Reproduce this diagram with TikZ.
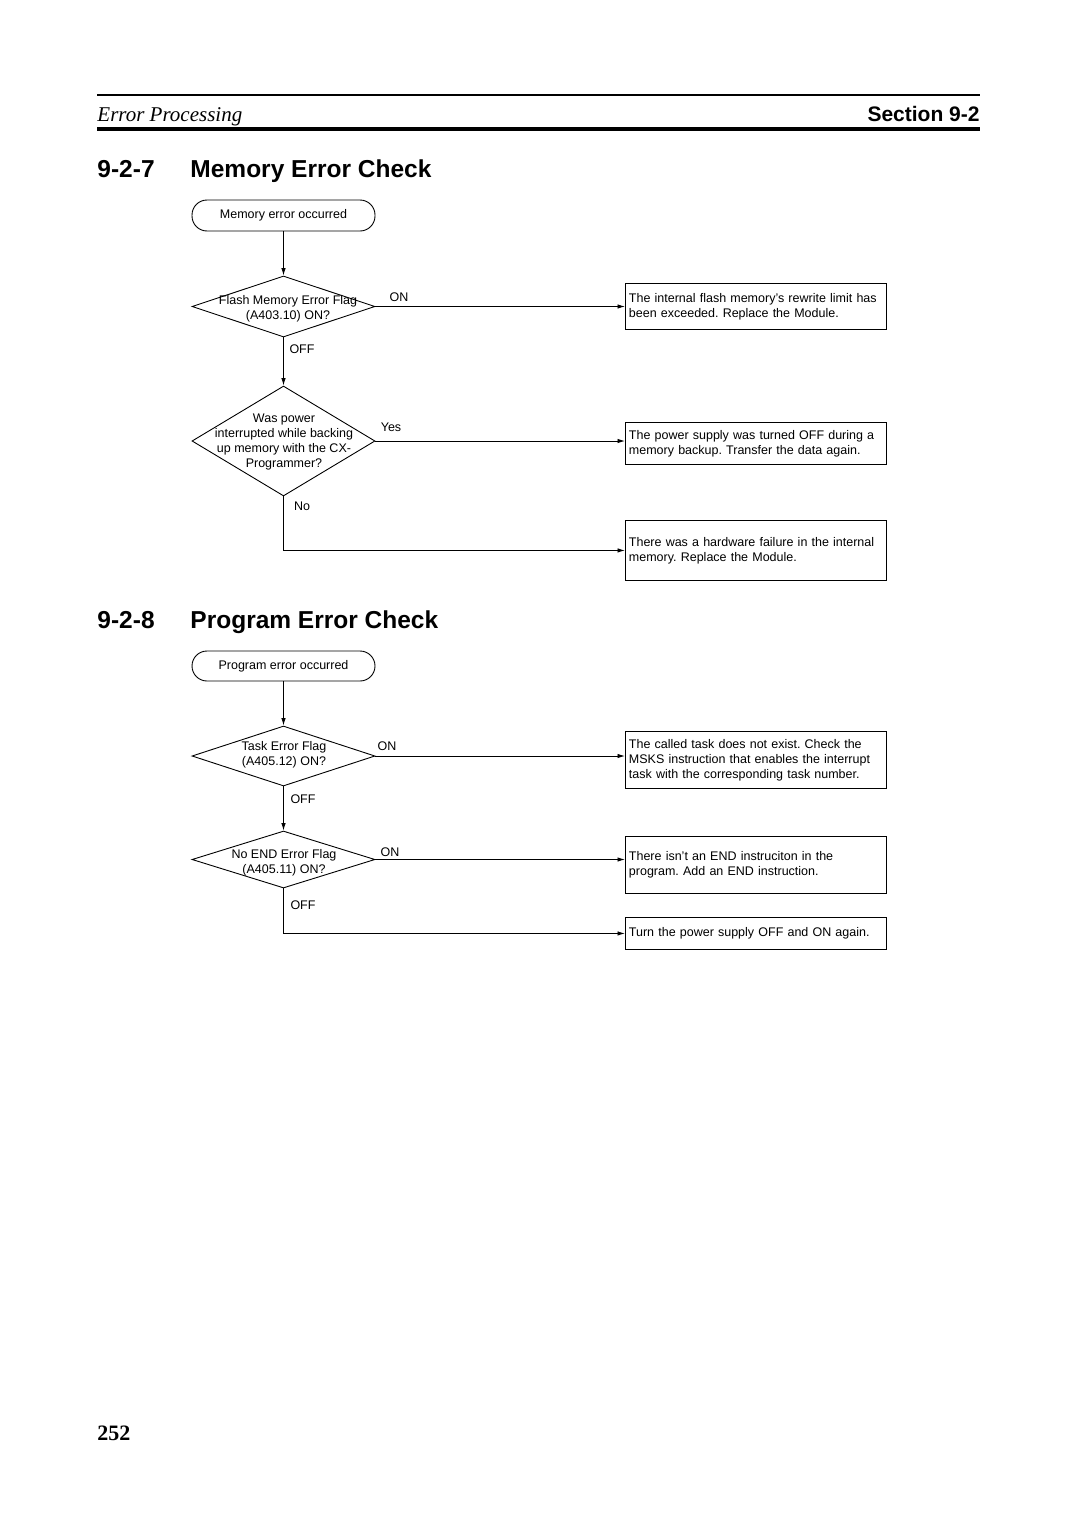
\documentclass[tikz,border=0pt]{standalone}
\usepackage{fontspec}
\setmainfont{Liberation Serif}
\setsansfont{Liberation Sans}
\usetikzlibrary{shapes.geometric,arrows.meta}
\frenchspacing

\begin{document}
\begin{tikzpicture}[x=1pt,y=-1pt,line width=0.9pt,
	flow/.style={font=\sffamily\fontsize{12.5}{15}\selectfont},
	terminal/.style={flow,draw,rectangle,rounded corners=15pt,minimum width=183pt,inner sep=0pt},
	decision/.style={draw,diamond,inner sep=0pt,minimum width=183pt},
	question/.style={flow,align=center,inner sep=0pt},
	result/.style={flow,draw,rectangle,anchor=north west,text width=254pt,inner xsep=3.5pt,inner ysep=0pt,align=left},
	tag/.style={flow,inner sep=0pt},
	link/.style={draw,-{Latex[length=7.5pt,width=4.5pt]}},
	heading/.style={font=\sffamily\bfseries\fontsize{24.5}{29}\selectfont,anchor=base west,inner sep=0pt}]
	\useasboundingbox (0,0) rectangle (1080,1528);

	% page header
	\draw[line width=2pt] (97,95) -- (980,95);
	\draw[line width=4.5pt] (97,129) -- (980,129);
	\node[anchor=base west,inner sep=0pt,font=\itshape\fontsize{21}{25}\selectfont] (chapter) at (97,121) {Error Processing};
	\node[anchor=base east,inner sep=0pt,font=\sffamily\bfseries\fontsize{21}{25}\selectfont] (section) at (980,121) {Section 9-2};

	% 9-2-7
	\node[heading] (num1) at (97,177) {9-2-7};
	\node[heading] (head1) at (190,177) {Memory Error Check};

	\node[terminal,minimum height=31pt] (start1) at (283.5,215.5) {Memory error occurred};
	\node[decision,minimum height=61pt] (flash) at (283.5,306.5) {};
	\node[question] (flashq) at (288,309) {Flash Memory Error Flag\\(A403.10) ON?};
	\node[decision,minimum height=110pt] (power) at (283.5,441) {};
	\node[question] (powerq) at (284,442) {Was power\\interrupted while backing\\up memory with the CX-\\Programmer?};

	\node[result,minimum height=46pt] (msg1) at (625,283) {The internal flash memory's rewrite limit has\\been exceeded. Replace the Module.};
	\node[result,minimum height=42pt] (msg2) at (625,422) {The power supply was turned OFF during a\\memory backup. Transfer the data again.};
	\node[result,minimum height=60pt] (msg3) at (625,520) {There was a hardware failure in the internal\\memory. Replace the Module.};

	\node[tag] (on1) at (399,297) {ON};
	\node[tag] (off1) at (302,349) {OFF};
	\node[tag] (yes1) at (391,427) {Yes};
	\node[tag] (no1) at (302,506) {No};

	\path[link] (start1) -- (flash);
	\path[link] (flash.east) -- (flash.east -| msg1.west);
	\path[link] (flash) -- (power);
	\path[link] (power.east) -- (power.east -| msg2.west);
	\path[link] (power.south) |- (msg3.west);

	% 9-2-8
	\node[heading] (num2) at (97,628) {9-2-8};
	\node[heading] (head2) at (190,628) {Program Error Check};

	\node[terminal,minimum height=30pt] (start2) at (283.5,666) {Program error occurred};
	\node[decision,minimum height=60pt] (task) at (283.5,756) {};
	\node[question] (taskq) at (284,755) {Task Error Flag\\(A405.12) ON?};
	\node[decision,minimum height=57pt] (noend) at (283.5,859.5) {};
	\node[question] (noendq) at (284,862.5) {No END Error Flag\\(A405.11) ON?};

	\node[result,minimum height=57pt] (msg4) at (625,731) {The called task does not exist. Check the\\MSKS instruction that enables the interrupt\\task with the corresponding task number.};
	\node[result,minimum height=57pt] (msg5) at (625,836) {There isn't an END instruciton in the\\program. Add an END instruction.};
	\node[result,minimum height=32pt] (msg6) at (625,917) {Turn the power supply OFF and ON again.};

	\node[tag] (on2) at (387,746) {ON};
	\node[tag] (off2) at (303,799) {OFF};
	\node[tag] (on3) at (390,852) {ON};
	\node[tag] (off3) at (303,905) {OFF};

	\path[link] (start2) -- (task);
	\path[link] (task.east) -- (task.east -| msg4.west);
	\path[link] (task) -- (noend);
	\path[link] (noend.east) -- (noend.east -| msg5.west);
	\path[link] (noend.south) |- (msg6.west);

	% page number
	\node[anchor=base west,inner sep=0pt,font=\bfseries\fontsize{22}{26}\selectfont] (page) at (97,1440) {252};
\end{tikzpicture}
\end{document}
